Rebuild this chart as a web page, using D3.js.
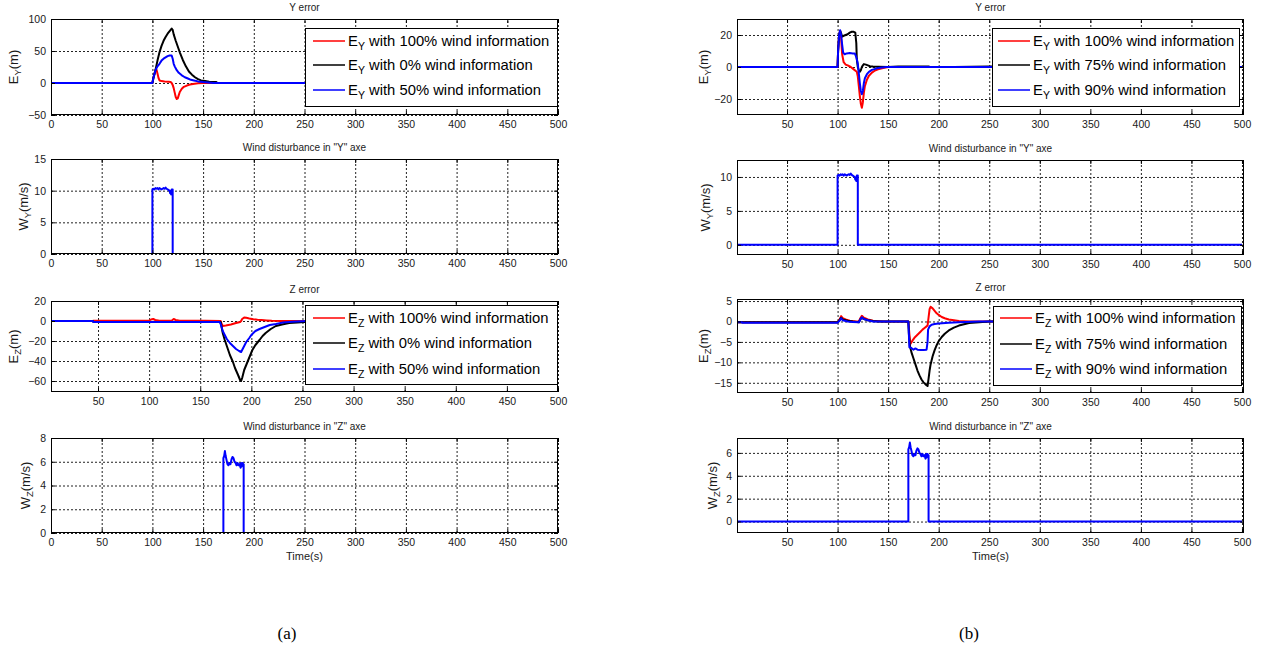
<!DOCTYPE html>
<html>
<head>
<meta charset="utf-8">
<script src="https://cdn.jsdelivr.net/npm/d3@7"></script>
<style>
  body { margin: 0; background: #fff; }
  svg { display: block; }
</style>
</head>
<body>
<svg id="fig" width="1261" height="649"></svg>
<script>
// ---------------- Tick values ----------------
const timeTicks = [0, 50, 100, 150, 200, 250, 300, 350, 400, 450, 500];
const timeTicksNoZero = [50, 100, 150, 200, 250, 300, 350, 400, 450, 500];
const ticksEyA = [-50, 0, 50, 100];
const ticksWy = [0, 5, 10, 15];
const ticksEzA = [-60, -40, -20, 0, 20];
const ticksWzA = [0, 2, 4, 6, 8];
const ticksEyB = [-20, 0, 20];
const ticksWyB = [0, 5, 10];
const ticksEzB = [-15, -10, -5, 0, 5];
const ticksWzB = [0, 2, 4, 6];

// ---------------- Legend shares of wind information ----------------
const sharesA = ["100%", "0%", "50%"];
const sharesB = ["100%", "75%", "90%"];

// ---------------- Wind disturbances [t (s), speed (m/s)] ----------------
const windY = [[0,0],[100,0],[100,10.2],[101,10.3],[102,10.2],[103,10.4],[104,10.3],[105,10.4],[106,10.2],
  [107,10.4],[108,10.3],[109,10.2],[110,10.3],[111,10.4],[112,10.3],[113,10.5],[114,10.3],[115,10.2],
  [116,10.1],[117,10.0],[117.5,9.6],[118,9.8],[118.5,9.4],[119,10.2],[120,10.2],[120,0],[500,0]];
const windZ = [[0,0],[170,0],[170,6.3],[170.8,6.5],[171.5,6.9],[172.2,6.5],[173,6.2],[174,5.8],[175,5.7],
  [176,5.9],[177,5.8],[178,6.2],[179,6.4],[180,6.3],[181,6.0],[182,5.9],[183,5.7],[184,5.9],[185,5.7],
  [186,5.8],[187,5.5],[187.5,5.9],[188,5.6],[189,5.9],[189.5,5.8],[190,5.8],[190,0],[500,0]];

// ---------------- Column (a): Y error [t, m] ----------------
const eyA100 = [[0,0],[100,0],[101,8],[103,20],[104,21],[105,15],[106,8],[107,4],[109,3],[112,2.5],[116,2],
  [118,1.5],[119,0],[120,-3],[121,-8],[122,-15],[123,-22],[124,-25],[125,-24],[126,-19],[127,-14],[129,-9],
  [131,-6],[134,-4],[137,-2.5],[140,-1.5],[145,-0.5],[150,0],[500,0]];
const eyA0 = [[0,0],[100,0],[101,8],[103,20],[105,35],[107,48],[109,58],[111,66],[113,72],[115,77],[117,81],
  [119,85],[120,83],[121,76],[123,66],[125,57],[127,48],[130,36],[133,26],[136,18],[139,13],[142,9],[145,6],
  [148,4],[152,3],[156,2],[163,1.5],[164,0],[500,0]];
const eyA50 = [[0,0],[100,0],[101,8],[103,20],[105,26],[107,30],[109,35],[111,38],[113,40],[115,42],[117,43],
  [119,43],[120,38],[121,30],[122,26],[124,20],[126,16],[129,12],[132,9],[135,7],[138,5],[141,4],[145,2.5],
  [150,1.5],[155,0.8],[160,0],[500,0]];

// ---------------- Column (a): Z error [t, m] ----------------
const ezA100 = [[0,0],[45,0],[45.5,0.3],[100,0.3],[102,1.5],[104,2],[106,1],[110,0.3],[122,0.3],[124,2],
  [126,1],[130,0.3],[155,0.3],[170,0],[171,-3],[172,-5],[175,-4.5],[180,-3.5],[185,-2],[189,-1],[190,0],
  [191,2],[193,3.5],[195,3.2],[198,2.5],[202,1.8],[206,1.2],[210,1],[215,0.6],[220,0.3],[230,0],[500,0]];
const ezA0 = [[0,0],[45,0],[45.5,-1],[170,-1],[172,-12],[174,-19],[177,-28],[179,-34],[182,-41],[184,-47],
  [187,-54],[189,-59],[190,-60],[191,-57],[193,-49],[195,-44],[197,-39],[199,-34],[201,-29],[204,-24],
  [208,-19],[211,-15],[214,-12],[219,-8],[224,-5],[230,-3.5],[237,-2],[245,-1.5],[252,-1],[260,0],[500,0]];
const ezA50 = [[0,0],[45,0],[45.5,-1],[169,-1],[170,-3],[172,-10],[174,-14],[176,-18],[179,-22],[182,-25],
  [185,-28],[188,-30],[190,-31],[191,-29],[193,-25],[195,-21],[198,-17],[200,-14],[204,-10],[208,-8],
  [213,-6],[218,-4],[224,-3],[231,-1.5],[240,-0.8],[250,-0.3],[255,0],[500,0]];

// ---------------- Column (b): Y error [t, m] ----------------
const eyB100 = [[0,0],[100,0],[100.5,10],[101.5,20],[102.5,22.5],[103.5,18],[104.5,8],[106,3],[108,1.5],
  [110,1],[113,0],[116,-1.5],[118,-2.5],[119,-3],[120,-6],[121,-12],[122,-18],[123,-23],[124,-25.5],
  [125,-22],[126,-16],[127,-12],[129,-8],[131,-5.5],[134,-3.5],[137,-2.2],[140,-1.5],[145,-0.7],[150,0],[500,0]];
const eyB75 = [[0,0],[100,0],[100.5,10],[101.5,20],[102.5,22.5],[103.5,21],[104.5,19],[106,19.5],[108,20],
  [110,20.5],[112,21.5],[114,22],[116,22],[117.5,21.5],[118.5,15],[119,5],[120,0],[121,-2],[122,-3],[123,-2],
  [124,0],[125,1],[126,1.8],[128,1.5],[130,1],[132,0.5],[135,0.3],[140,0.2],[150,0],[160,0.3],[190,0.3],
  [191,0],[215,0],[250,0.3],[500,0]];
const eyB90 = [[0,0],[100,0],[100.5,10],[101.5,20],[102.5,23],[103.5,20],[104.5,14],[105.5,9],[107,8],
  [109,8.5],[112,8.7],[115,8.5],[117,8.5],[118,7],[119,5],[120,2],[121,-4],[122,-10],[123,-15],[124,-17],
  [125,-15],[126,-10],[127,-7],[129,-4.5],[131,-3],[134,-1.8],[138,-1],[142,-0.5],[148,0],[500,0]];

// ---------------- Column (b): Z error [t, m] ----------------
const ezB100 = [[0,-0.2],[100,-0.2],[102,0.5],[103.5,1.3],[105,0.8],[108,0.5],[112,0.2],[118,0],[121,0],
  [122.5,0.8],[124,1.4],[126,0.9],[130,0.5],[135,0.2],[145,0],[170,0],[171,-3],[172,-5.5],[174,-4.7],
  [176,-4],[178,-3.5],[180,-3],[182,-2.5],[184,-2],[186,-1.6],[188,-1.2],[189,-1],[190,1],[191,3],[192,3.6],
  [194,3.2],[196,2.6],[198,2],[200,1.6],[203,1.1],[206,0.8],[210,0.5],[215,0.3],[220,0.1],[230,0],[500,0]];
const ezB75 = [[0,-0.2],[100,-0.2],[102,0.4],[103.5,0.9],[105,0.5],[110,0.2],[115,0],[121,-0.2],[122.5,0.5],
  [124,0.9],[126,0.6],[130,0.3],[135,0.1],[140,0],[170,0],[170.5,-3],[171.5,-6],[173,-7.5],[175,-9],
  [177,-10.5],[179,-12],[181,-13.2],[183,-14.2],[185,-14.9],[187,-15.4],[189,-15.8],[190,-14],[191,-12],
  [192,-10.5],[194,-8.5],[196,-7],[198,-5.8],[200,-4.8],[203,-3.8],[206,-3],[210,-2.2],[215,-1.5],
  [220,-1],[225,-0.7],[230,-0.4],[240,-0.2],[250,0],[500,0]];
const ezB90 = [[0,-0.2],[5,-0.2],[6,-0.3],[100,-0.3],[102,0.2],[103.5,0.8],[105,0.3],[110,0],[115,-0.1],
  [121,-0.2],[122.5,0.5],[124,1],[126,0.6],[130,0.3],[135,0],[170,0],[170.5,-3],[171,-6.3],[173,-6.5],
  [175,-6.9],[177,-6.6],[179,-6.9],[182,-7],[185,-7],[188,-6.9],[189,-5],[189.5,-2],[191,-1.2],[193,-0.8],
  [196,-0.6],[200,-0.5],[210,-0.3],[220,-0.2],[240,0],[500,0]];

// ---------------- Styling ----------------
const RED = "#ff0000", BLACK = "#000000", BLUE = "#0000ff";
const SANS = "Arial, 'Liberation Sans', Helvetica, sans-serif";
const svg = d3.select("#fig");

const panels = [
  // column (a)
  { id: "a1", x0: 51, x1: 558, y0: 19, y1: 115, xDom: [0, 500], xTicks: timeTicks,
    yDom: [-50, 100], yTicks: ticksEyA, title: "Y error", lab: ["E", "Y", "(m)"], labX: 13,
    series: [[eyA100, RED], [eyA0, BLACK], [eyA50, BLUE]],
    legend: { x0: 305, x1: 558, y0: 28, y1: 107, rows: [41, 65, 90], lx0: 313, lx1: 345, tx: 348, sub: "Y", shares: sharesA } },
  { id: "a2", x0: 51, x1: 558, y0: 159, y1: 254, xDom: [0, 500], xTicks: timeTicks,
    yDom: [0, 15], yTicks: ticksWy, title: "Wind disturbance in \"Y\" axe", lab: ["W", "Y", "(m/s)"], labX: 23,
    series: [[windY, BLUE]] },
  { id: "a3", x0: 51, x1: 558, y0: 301, y1: 392, xDom: [4, 500], xTicks: timeTicksNoZero,
    yDom: [-71, 20], yTicks: ticksEzA, title: "Z error", lab: ["E", "Z", "(m)"], labX: 13,
    series: [[ezA100, RED], [ezA0, BLACK], [ezA50, BLUE]],
    legend: { x0: 305, x1: 558, y0: 305, y1: 385, rows: [318, 343, 369], lx0: 313, lx1: 345, tx: 348, sub: "Z", shares: sharesA } },
  { id: "a4", x0: 51, x1: 558, y0: 438, y1: 533, xDom: [0, 500], xTicks: timeTicks,
    yDom: [0, 8], yTicks: ticksWzA, title: "Wind disturbance in \"Z\" axe", lab: ["W", "Z", "(m/s)"], labX: 25,
    series: [[windZ, BLUE]], xlabel: "Time(s)" },
  // column (b)
  { id: "b1", x0: 737, x1: 1244, y0: 19, y1: 115, xDom: [0.5, 502], xTicks: timeTicksNoZero,
    yDom: [-30, 30], yTicks: ticksEyB, title: "Y error", lab: ["E", "Y", "(m)"], labX: 703,
    series: [[eyB100, RED], [eyB75, BLACK], [eyB90, BLUE]],
    legend: { x0: 992, x1: 1240, y0: 28, y1: 107, rows: [41, 65, 90], lx0: 998, lx1: 1030, tx: 1033, sub: "Y", shares: sharesB } },
  { id: "b2", x0: 737, x1: 1244, y0: 160, y1: 255, xDom: [0.5, 502], xTicks: timeTicksNoZero,
    yDom: [-1.5, 12.5], yTicks: ticksWyB, title: "Wind disturbance in \"Y\" axe", lab: ["W", "Y", "(m/s)"], labX: 705,
    series: [[windY, BLUE]] },
  { id: "b3", x0: 737, x1: 1244, y0: 299, y1: 393, xDom: [0.5, 502], xTicks: timeTicksNoZero,
    yDom: [-17.5, 5.5], yTicks: ticksEzB, title: "Z error", lab: ["E", "Z", "(m)"], labX: 703,
    series: [[ezB100, RED], [ezB75, BLACK], [ezB90, BLUE]],
    legend: { x0: 993, x1: 1242, y0: 306, y1: 386, rows: [318, 344, 369], lx0: 1000, lx1: 1032, tx: 1035, sub: "Z", shares: sharesB } },
  { id: "b4", x0: 737, x1: 1244, y0: 438, y1: 533, xDom: [0.5, 502], xTicks: timeTicksNoZero,
    yDom: [-1, 7.3], yTicks: ticksWzB, title: "Wind disturbance in \"Z\" axe", lab: ["W", "Z", "(m/s)"], labX: 712,
    series: [[windZ, BLUE]], xlabel: "Time(s)" }
];

function styleAxis(sel) {
  sel.attr("font-family", SANS).attr("font-size", 10.5);
  sel.select(".domain").remove();
  sel.selectAll(".tick line").attr("stroke", "#000");
  sel.selectAll(".tick text").attr("fill", "#1a1a1a");
}

function drawPanel(p) {
  const x = d3.scaleLinear().domain(p.xDom).range([p.x0, p.x1]);
  const y = d3.scaleLinear().domain(p.yDom).range([p.y1, p.y0]);
  const w = p.x1 - p.x0, h = p.y1 - p.y0;
  const g = svg.append("g").attr("class", "panel-" + p.id);

  g.append("clipPath").attr("id", "clip-" + p.id)
    .append("rect").attr("x", p.x0).attr("y", p.y0).attr("width", w).attr("height", h);

  g.append("rect").attr("x", p.x0).attr("y", p.y0).attr("width", w).attr("height", h).attr("fill", "#fff");

  // dotted grid
  const gx = g.append("g").attr("transform", `translate(0,${p.y1})`)
    .call(d3.axisBottom(x).tickValues(p.xTicks).tickSize(-h).tickFormat(""));
  const gy = g.append("g").attr("transform", `translate(${p.x0},0)`)
    .call(d3.axisLeft(y).tickValues(p.yTicks).tickSize(-w).tickFormat(""));
  [gx, gy].forEach(s => {
    s.select(".domain").remove();
    s.selectAll(".tick line").attr("stroke", "#222").attr("stroke-dasharray", "2,2").attr("stroke-width", 1);
  });

  // series
  const line = d3.line().x(d => x(d[0])).y(d => y(d[1]));
  const plot = g.append("g").attr("clip-path", `url(#clip-${p.id})`);
  p.series.forEach(([data, color]) => {
    plot.append("path").datum(data).attr("d", line)
      .attr("fill", "none").attr("stroke", color).attr("stroke-width", 2)
      .attr("stroke-linejoin", "round");
  });

  // axes with inward ticks on all four sides
  g.append("g").attr("transform", `translate(0,${p.y1})`)
    .call(d3.axisBottom(x).tickValues(p.xTicks).tickSizeInner(-4).tickSizeOuter(0).tickPadding(6))
    .call(styleAxis);
  g.append("g").attr("transform", `translate(0,${p.y0})`)
    .call(d3.axisTop(x).tickValues(p.xTicks).tickSizeInner(-4).tickSizeOuter(0).tickFormat(""))
    .call(styleAxis);
  g.append("g").attr("transform", `translate(${p.x0},0)`)
    .call(d3.axisLeft(y).tickValues(p.yTicks).tickSizeInner(-4).tickSizeOuter(0).tickPadding(5))
    .call(styleAxis);
  g.append("g").attr("transform", `translate(${p.x1},0)`)
    .call(d3.axisRight(y).tickValues(p.yTicks).tickSizeInner(-4).tickSizeOuter(0).tickFormat(""))
    .call(styleAxis);

  g.append("rect").attr("x", p.x0 + 0.5).attr("y", p.y0 + 0.5).attr("width", w - 1).attr("height", h - 1)
    .attr("fill", "none").attr("stroke", "#000").attr("stroke-width", 1);

  // title
  g.append("text").attr("x", (p.x0 + p.x1) / 2).attr("y", p.y0 - 8)
    .attr("text-anchor", "middle").attr("font-family", SANS).attr("font-size", 10).attr("fill", "#1a1a1a")
    .text(p.title);

  // y label with subscript
  const cy = (p.y0 + p.y1) / 2;
  const yl = g.append("text").attr("transform", `translate(${p.labX + 4.5},${cy}) rotate(-90)`)
    .attr("text-anchor", "middle").attr("font-family", SANS).attr("font-size", 13).attr("fill", "#1a1a1a");
  yl.append("tspan").text(p.lab[0]);
  yl.append("tspan").attr("dy", 3.5).attr("font-size", 9.5).text(p.lab[1]);
  yl.append("tspan").attr("dy", -3.5).text(p.lab[2]);

  if (p.xlabel) {
    g.append("text").attr("x", (p.x0 + p.x1) / 2).attr("y", p.y1 + 27)
      .attr("text-anchor", "middle").attr("font-family", SANS).attr("font-size", 11).attr("fill", "#1a1a1a")
      .text(p.xlabel);
  }

  // legend
  if (p.legend) {
    const L = p.legend;
    const lg = g.append("g");
    lg.append("rect").attr("x", L.x0 + 0.5).attr("y", L.y0 + 0.5)
      .attr("width", L.x1 - L.x0 - 1).attr("height", L.y1 - L.y0 - 1)
      .attr("fill", "#fff").attr("stroke", "#000").attr("stroke-width", 1);
    p.series.forEach(([, color], i) => {
      const ry = L.rows[i];
      lg.append("line").attr("x1", L.lx0).attr("x2", L.lx1).attr("y1", ry).attr("y2", ry)
        .attr("stroke", color).attr("stroke-width", 1.5);
      const t = lg.append("text").attr("x", L.tx).attr("y", ry + 5)
        .attr("font-family", SANS).attr("font-size", 14.8).attr("fill", "#000");
      t.append("tspan").text("E");
      t.append("tspan").attr("dy", 4).attr("font-size", 10.5).text(L.sub);
      t.append("tspan").attr("dy", -4).text(` with ${L.shares[i]} wind information`);
    });
  }
}

panels.forEach(drawPanel);

// sub-figure captions
[["(a)", 287], ["(b)", 969]].forEach(([txt, cx]) => {
  svg.append("text").attr("x", cx).attr("y", 639).attr("text-anchor", "middle")
    .attr("font-family", "'Liberation Serif', 'Times New Roman', serif").attr("font-size", 17)
    .attr("fill", "#000").text(txt);
});
</script>
</body>
</html>
